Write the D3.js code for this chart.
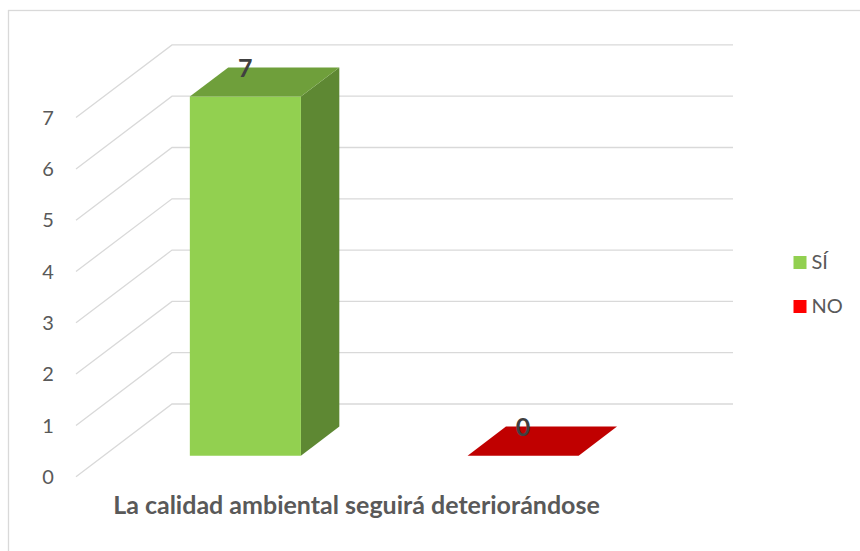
<!DOCTYPE html>
<html>
<head>
<meta charset="utf-8">
<script src="https://cdn.jsdelivr.net/npm/d3@7"></script>
<style>
  html, body { margin: 0; padding: 0; background: #ffffff; }
  svg { display: block; }
</style>
</head>
<body>
<svg id="chart" width="860" height="551"></svg>
<script>
// Survey answers for one statement, one bar per answer
const category = "La calidad ambiental seguirá deteriorándose";
const seriesNames = ["SÍ", "NO"];
const seriesValues = [7, 0];
const tickValues = [0, 1, 2, 3, 4, 5, 6, 7];

const frontColors = ["#92D050", "#FF0000"];
const topColors = ["#6F9F3B", "#C00000"];
const sideColors = ["#5E8833", "#A00000"];

const svg = d3.select("#chart");
const W = 860, H = 551;

// chart area border
svg.append("rect")
  .attr("x", 8.5).attr("y", 10.5)
  .attr("width", W).attr("height", H)
  .attr("fill", "#fff")
  .attr("stroke", "#D9D9D9").attr("stroke-width", 1.3);

// oblique 3D projection: floor width along x, depth along z (0 = front, 1 = back)
const floorLeft = 76;
const floorWidth = 561;
const depthDx = 96;
const depthDy = 72.7;

const y = d3.scaleLinear().domain([0, 7]).range([476.7, 117.6]);
const x = d3.scaleBand().domain(seriesNames).range([0, floorWidth])
  .paddingInner(0.6).paddingOuter(0.31);

const PX = (fx, z) => floorLeft + fx + z * depthDx;
const PY = (v, z) => y(v) - z * depthDy;

// gridlines: side wall diagonal + back wall horizontal
const grid = svg.append("g");
tickValues.forEach(v => {
  const pts = [[PX(0, 0), PY(v, 0)], [PX(0, 1), PY(v, 1)], [PX(floorWidth, 1), PY(v, 1)]];
  grid.append("path")
    .attr("d", d3.line()(pts))
    .attr("fill", "none")
    .attr("stroke", "#D9D9D9")
    .attr("stroke-width", 1.3);
});

// value axis labels
svg.append("g").selectAll("text")
  .data(tickValues).join("text")
  .attr("x", 48)
  .attr("y", d => y(d))
  .attr("dy", "0.36em")
  .attr("text-anchor", "middle")
  .attr("font-family", "Lato, 'Open Sans', sans-serif")
  .attr("font-size", 20)
  .attr("fill", "#595959")
  .text(d => d);

// bars as prisms
const z0 = 0.289, z1 = 0.689;
const bars = svg.append("g");
seriesNames.forEach((name, i) => {
  const v = seriesValues[i];
  const x0 = x(name), x1 = x(name) + x.bandwidth();
  const poly = pts => "M" + pts.map(p => p.join(",")).join("L") + "Z";
  if (v > 0) {
    bars.append("path")
      .attr("d", poly([[PX(x1, z0), PY(v, z0)], [PX(x1, z1), PY(v, z1)], [PX(x1, z1), PY(0, z1)], [PX(x1, z0), PY(0, z0)]]))
      .attr("fill", sideColors[i]);
    bars.append("path")
      .attr("d", poly([[PX(x0, z0), PY(v, z0)], [PX(x1, z0), PY(v, z0)], [PX(x1, z0), PY(0, z0)], [PX(x0, z0), PY(0, z0)]]))
      .attr("fill", frontColors[i]);
  }
  bars.append("path")
    .attr("d", poly([[PX(x0, z0), PY(v, z0)], [PX(x1, z0), PY(v, z0)], [PX(x1, z1), PY(v, z1)], [PX(x0, z1), PY(v, z1)]]))
    .attr("fill", topColors[i]);

  // value label
  svg.append("text")
    .attr("x", PX((x0 + x1) / 2, z0))
    .attr("y", PY(v, z1))
    .attr("dy", "0.36em")
    .attr("text-anchor", "middle")
    .attr("font-family", "Lato, 'Open Sans', sans-serif")
    .attr("font-weight", "bold")
    .attr("font-size", 25)
    .attr("fill", "#404040")
    .text(v);
});

// category label
svg.append("text")
  .attr("x", PX(floorWidth / 2, 0))
  .attr("y", 514)
  .attr("text-anchor", "middle")
  .attr("font-family", "Lato, 'Open Sans', sans-serif")
  .attr("font-weight", "bold")
  .attr("font-size", 25)
  .attr("fill", "#595959")
  .text(category);

// legend
const legend = svg.append("g");
seriesNames.forEach((name, i) => {
  const ly = 256 + i * 44;
  legend.append("rect")
    .attr("x", 793.5).attr("y", ly)
    .attr("width", 13).attr("height", 13)
    .attr("fill", frontColors[i]);
  legend.append("text")
    .attr("x", 811.5).attr("y", ly + 13)
    .attr("font-family", "Lato, 'Open Sans', sans-serif")
    .attr("font-size", 20)
    .attr("fill", "#595959")
    .text(name);
});
</script>
</body>
</html>
